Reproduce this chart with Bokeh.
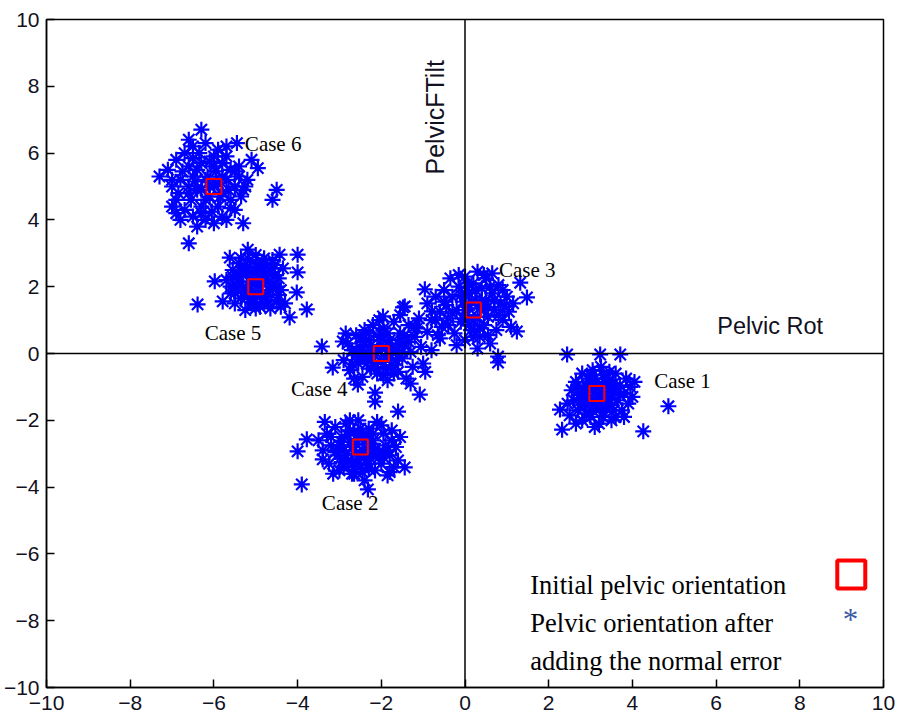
from bokeh.plotting import figure
from bokeh.models import Range1d, FixedTicker, Span
from bokeh.core.properties import value
from bokeh.embed import file_html
from bokeh.resources import INLINE

# ---- data ----
case1_x = [2.44, 3.23, 3.71, 4.86, 4.26, 2.32, 2.27,
           2.55, 2.6, 2.65, 2.7, 2.75, 2.8, 2.8, 2.85, 2.9, 2.95, 3.0, 3.0, 3.05, 3.1, 3.1, 3.15, 3.2, 3.2,
           3.25, 3.3, 3.3, 3.35, 3.4, 3.45, 3.5, 3.5, 3.55, 3.6, 3.65, 3.7, 3.75, 3.8, 3.85, 3.9, 3.95, 4.05,
           2.45, 2.5, 2.7, 2.9, 3.0, 3.15, 3.35, 3.45, 3.6, 3.7, 2.85, 3.25, 3.55, 3.1, 2.65, 3.8, 4.0, 3.4, 2.95,
           2.9, 3.0, 3.1, 3.2, 3.3, 3.4, 3.05, 3.25, 2.8, 3.5, 3.35, 2.95, 3.15, 3.45, 2.75, 3.6, 3.0, 3.3, 2.7, 3.55]
case1_y = [-0.03, -0.03, -0.03, -1.58, -2.33, -2.28, -1.68,
           -1.1, -1.4, -0.85, -1.7, -1.25, -0.6, -2.0, -1.5, -1.0, -0.75, -1.3, -1.9, -0.5, -1.6, -1.05, -0.85, -1.45, -2.1,
           -1.2, -0.65, -1.75, -1.0, -1.35, -0.8, -1.55, -2.0, -1.15, -0.6, -1.4, -0.95, -1.7, -1.2, -0.75, -1.5, -1.0, -0.85,
           -1.5, -1.85, -0.95, -1.8, -0.95, -1.3, -1.6, -0.55, -1.9, -1.25, -1.25, -0.4, -0.9, -2.2, -2.1, -1.9, -1.3, -1.1, -1.55,
           -1.15, -1.45, -0.75, -1.05, -1.35, -0.95, -1.7, -1.55, -1.35, -1.25, -0.75, -1.0, -1.5, -1.5, -1.55, -1.05, -0.65, -1.9, -1.1, -1.7]

case2_x = [-4.0, -3.9, -2.32, -1.6, -2.15, -1.44, -3.4, -3.78,
           -3.5, -3.4, -3.3, -3.25, -3.2, -3.1, -3.05, -3.0, -2.95, -2.9, -2.85, -2.8, -2.75, -2.7, -2.65, -2.6,
           -2.55, -2.5, -2.45, -2.4, -2.35, -2.3, -2.25, -2.2, -2.15, -2.1, -2.05, -2.0, -1.95, -1.9, -1.85, -1.8,
           -1.75, -1.7, -1.65, -1.6, -3.35, -3.15, -2.75, -2.6, -2.4, -2.35, -2.2, -2.8, -2.95, -2.5, -2.0, -1.8,
           -2.65, -3.0, -2.3, -1.95, -2.45, -1.55, -2.7,
           -2.7, -2.55, -2.35, -2.25, -2.85, -2.6, -2.4, -2.15, -2.95, -2.5, -2.3, -2.75, -2.05, -3.1, -2.2, -2.9,
           -1.85, -2.45, -3.2, -1.75]
case2_y = [-2.93, -3.92, -4.07, -1.74, -1.44, -3.41, -3.17, -2.57,
           -2.6, -2.9, -2.4, -3.3, -2.75, -2.2, -3.05, -3.5, -2.5, -2.9, -2.1, -3.2, -2.65, -3.6, -2.35, -3.0,
           -2.0, -3.35, -2.55, -3.8, -2.85, -2.25, -3.15, -2.6, -3.5, -2.05, -2.95, -3.3, -2.4, -2.75, -3.65, -3.05,
           -2.3, -3.4, -2.8, -3.2, -2.05, -3.6, -2.0, -2.7, -3.1, -2.4, -2.95, -2.45, -3.25, -2.25, -2.15, -3.55,
           -3.6, -2.75, -3.45, -3.1, -2.9, -2.5, -3.3,
           -2.8, -2.45, -3.0, -2.7, -3.05, -3.2, -2.6, -2.85, -2.65, -3.05, -3.3, -2.3, -3.1, -2.95, -2.4, -3.4,
           -2.9, -3.55, -2.5, -2.6]

case3_x = [-0.96, 1.32, 1.48, 1.24, 0.79, -1.48, 0.79, -0.79,
           -0.9, -0.8, -0.7, -0.6, -0.55, -0.5, -0.45, -0.4, -0.3, -0.25, -0.2, -0.15, -0.1, -0.05, 0.0, 0.0,
           0.05, 0.1, 0.15, 0.2, 0.2, 0.25, 0.3, 0.35, 0.35, 0.4, 0.45, 0.5, 0.5, 0.55, 0.6, 0.65, 0.7, 0.75,
           0.8, 0.85, 0.9, 1.0, 1.05, 1.1, -0.35, 0.1, 0.45, -0.65, 0.0, 0.65, 0.3, -0.2, 0.9, 1.15, -0.05, 0.55,
           0.0, 0.15, 0.3, 0.4, -0.1, 0.25, 0.55, -0.3, 0.1, 0.7, -0.5, 0.35, 0.6, -0.15, 0.8, 0.05, -0.4, 0.95,
           0.45, 0.2]
case3_y = [1.92, 2.12, 1.68, 0.66, -0.09, 1.38, -0.27, 1.26,
           1.5, 1.0, 1.7, 1.25, 0.8, 1.9, 1.45, 1.05, 1.7, 0.6, 1.3, 2.0, 0.95, 1.55, 2.3, 0.4,
           1.15, 1.8, 0.7, 2.1, 1.0, 1.6, 2.45, 0.5, 1.35, 1.95, 0.85, 1.55, 2.25, 1.1, 0.3, 1.8, 1.3, 0.7,
           2.05, 1.5, 1.0, 1.7, 1.25, 0.8, 2.25, 1.45, 1.3, 0.55, 1.75, 2.4, 0.15, 0.25, 1.9, 1.5, 1.05, 0.55,
           1.3, 1.55, 1.1, 1.6, 1.75, 1.9, 1.4, 1.2, 0.85, 1.6, 1.55, 0.75, 2.0, 2.35, 1.15, 2.1, 0.85, 1.4,
           2.35, 0.5]

case4_x = [-3.42, -2.92, -3.16, -2.56, -2.15, -1.08, -1.44, -1.96,
           -2.9, -2.8, -2.75, -2.7, -2.6, -2.55, -2.5, -2.45, -2.4, -2.35, -2.3, -2.25, -2.2, -2.15, -2.1, -2.05,
           -2.0, -1.95, -1.9, -1.85, -1.8, -1.75, -1.7, -1.65, -1.6, -1.55, -1.5, -1.45, -1.4, -1.35, -1.3, -1.25,
           -1.2, -1.1, -1.05, -1.0, -0.9, -0.8, -0.7, -2.6, -2.3, -2.0, -1.8, -2.2, -1.6, -2.4, -1.9, -2.65,
           -1.3, -2.05, -1.55, -0.95, -2.85, -1.15, -0.6,
           -2.1, -1.9, -2.25, -1.75, -2.35, -1.65, -2.5, -1.45, -2.15, -1.85, -2.45, -1.35, -2.0, -1.7, -2.55,
           -1.2, -1.95, -2.3, -1.5, -2.7]
case4_y = [0.21, 0.36, -0.42, -0.93, -1.17, -1.23, 1.41, 1.11,
           -0.2, 0.3, -0.5, 0.1, 0.55, -0.3, 0.2, -0.7, 0.7, -0.1, 0.4, -0.45, 0.85, 0.05, -0.6, 0.5,
           -0.25, 0.75, 0.15, -0.8, 0.4, -0.35, 0.95, 0.1, -0.55, 0.6, -0.15, 0.3, -0.75, 0.85, 0.05, -0.4,
           0.5, 1.05, 0.2, -0.3, 0.65, 0.1, 1.0, -0.05, 0.0, 0.25, -0.05, -0.15, 0.3, 0.35, -0.45, -0.75,
           -0.9, 1.0, 1.15, -0.55, 0.6, 0.75, 0.45,
           0.1, -0.15, 0.25, 0.2, -0.3, -0.2, 0.45, 0.55, -0.4, 0.6, -0.1, 0.35, 0.55, -0.6, 0.05,
           0.8, -0.65, 0.6, 0.05, -0.3]

case5_x = [-6.39, -3.78, -4.19, -4.02, -4.0, -4.0, -4.43, -5.19, -5.62, -5.98, -5.79,
           -5.7, -5.6, -5.55, -5.5, -5.45, -5.4, -5.35, -5.3, -5.25, -5.2, -5.15, -5.1, -5.05, -5.0, -4.95, -4.9,
           -4.85, -4.8, -4.75, -4.7, -4.65, -4.6, -4.55, -4.5, -4.45, -4.4, -4.35, -4.3, -5.3, -5.1, -4.9, -4.7,
           -5.2, -5.0, -4.8, -5.45, -4.6, -5.6, -4.5, -5.1, -4.85, -5.35, -4.4, -5.0, -5.25,
           -5.0, -4.85, -5.15, -4.75, -5.25, -4.95, -5.1, -4.65, -5.4, -4.9, -5.05, -4.55, -5.35, -4.7, -5.5,
           -4.8, -5.2, -4.45, -5.55, -4.6]
case5_y = [1.47, 1.32, 1.08, 1.83, 2.43, 2.96, 2.96, 3.11, 2.87, 2.16, 1.56,
           2.2, 1.8, 2.5, 1.5, 2.05, 2.7, 1.65, 2.35, 1.3, 1.95, 2.8, 1.55, 2.25, 1.75, 2.6, 1.4,
           2.1, 2.85, 1.7, 2.4, 1.35, 2.0, 2.65, 1.6, 2.25, 1.9, 2.55, 1.5, 2.0, 2.4, 1.9, 2.15,
           1.7, 2.95, 1.55, 2.3, 2.8, 2.0, 2.0, 1.85, 2.45, 2.85, 1.4, 1.35, 2.55,
           2.1, 1.8, 2.15, 2.3, 1.85, 2.35, 1.65, 1.9, 2.15, 2.6, 1.5, 2.35, 2.45, 1.55, 1.8,
           2.7, 2.55, 1.75, 2.3, 2.55]

case6_x = [-6.3, -5.45, -7.3, -6.6, -5.3, -4.5, -4.6, -5.1, -4.95, -5.8,
           -6.9, -6.7, -6.5, -6.2, -5.9, -5.7, -6.6, -6.3, -6.0, -5.6, -5.4, -7.0, -6.8, -6.5, -6.2, -5.8,
           -5.5, -5.3, -6.9, -6.6, -6.4, -6.1, -5.8, -5.6, -5.9, -6.3, -6.7, -6.9, -6.5, -6.2, -5.5, -5.7,
           -6.0, -6.4, -6.1, -5.9, -6.4, -7.1, -5.2, -5.4, -6.8, -7.0, -6.0, -5.7, -6.6,
           -6.0, -6.15, -5.85, -6.3, -5.7, -6.45, -5.95, -6.2, -5.65, -6.55, -5.5, -6.75, -6.1, -6.35, -5.8,
           -6.6, -5.35, -6.85, -6.05, -5.6, -6.5, -5.25, -7.0, -6.3]
case6_y = [6.7, 6.3, 5.3, 3.3, 3.9, 4.9, 4.6, 5.8, 5.55, 4.1,
           5.8, 6.0, 6.2, 6.3, 6.1, 5.9, 5.6, 5.7, 5.6, 5.5, 5.3, 5.0, 5.2, 5.3, 5.2, 5.3,
           5.0, 4.9, 4.6, 4.8, 4.9, 4.7, 4.8, 4.6, 4.4, 4.4, 4.3, 4.2, 4.1, 4.0, 4.3, 4.0,
           3.9, 3.8, 5.0, 5.1, 5.5, 5.5, 5.2, 5.6, 4.0, 4.4, 5.9, 6.2, 6.4,
           5.0, 5.3, 4.7, 4.9, 5.2, 5.15, 5.45, 4.6, 4.9, 4.6, 5.45, 5.45, 5.75, 6.0, 5.7,
           5.0, 4.7, 4.8, 4.25, 4.35, 5.85, 5.0, 5.2, 4.2]

centers_x = [3.15, -2.5, 0.2, -2.0, -5.0, -6.0]
centers_y = [-1.2, -2.8, 1.3, 0.0, 2.0, 5.0]

case_labels = ["Case 1", "Case 2", "Case 3", "Case 4", "Case 5", "Case 6"]
label_x = [4.52, -3.42, 0.81, -4.16, -6.22, -5.26]
label_y = [-0.83, -4.47, 2.51, -1.05, 0.62, 6.27]

legend_lines = ["Initial pelvic orientation", "Pelvic orientation after", "adding the normal error"]
legend_x = [1.56, 1.56, 1.56]
legend_y = [-6.92, -8.07, -9.22]

ticks = [-10, -8, -6, -4, -2, 0, 2, 4, 6, 8, 10]

# ---- figure ----
p = figure(width=897, height=720, output_backend="svg", toolbar_location=None,
           x_range=Range1d(-10, 10), y_range=Range1d(-10, 10),
           min_border_left=46, min_border_right=14, min_border_top=19, min_border_bottom=33)
p.grid.visible = False
p.background_fill_color = "white"
p.border_fill_color = "white"
p.outline_line_color = "black"
p.outline_line_width = 1.5

for ax in (p.xaxis[0], p.yaxis[0]):
    ax.ticker = FixedTicker(ticks=ticks)
    ax.major_tick_in = 8
    ax.major_tick_out = 0
    ax.minor_tick_line_color = None
    ax.axis_line_color = "black"
    ax.axis_line_width = 1.5
    ax.major_tick_line_width = 1.5
    ax.major_label_text_font = "Liberation Sans"
    ax.major_label_text_font_size = "21px"
    ax.major_label_text_color = "#111122"
p.xaxis[0].major_label_standoff = 8
p.yaxis[0].major_label_standoff = 7

p.add_layout(Span(location=0, dimension="width", line_color="black", line_width=1.5))
p.add_layout(Span(location=0, dimension="height", line_color="black", line_width=1.5))

all_x = case1_x + case2_x + case3_x + case4_x + case5_x + case6_x
all_y = case1_y + case2_y + case3_y + case4_y + case5_y + case6_y
p.scatter(all_x, all_y, marker="asterisk", size=16, line_color="#0000ff", line_width=2.2)

p.scatter(centers_x, centers_y, marker="square", size=15, fill_color=None,
          line_color="#ff0000", line_width=2)

p.text(x=label_x, y=label_y, text=case_labels, text_font=value("Liberation Serif"),
       text_font_size="21px", text_color="black", text_baseline="alphabetic", text_align="left")

p.text(x=legend_x, y=legend_y, text=legend_lines, text_font=value("Liberation Serif"),
       text_font_size="26.5px", text_color="black", text_baseline="alphabetic", text_align="left")

# legend symbols
p.scatter([9.23], [-6.62], marker="square", size=28, fill_color=None, line_color="#ff0000", line_width=4)
p.text(x=[9.21], y=[-7.96], text=["*"], text_font=value("Liberation Serif"), text_font_size="31px",
       text_color="#3b5ba5", text_baseline="alphabetic", text_align="center")

# axis names
p.text(x=[6.03], y=[0.81], text=["Pelvic Rot"], text_font=value("Liberation Sans"),
       text_font_size="23.5px", text_color="#111122", text_baseline="alphabetic", text_align="left")
p.text(x=[-0.71], y=[5.36], text=["PelvicFTilt"], text_font=value("Liberation Sans"),
       text_font_size="25px", text_color="#111122", text_baseline="alphabetic", text_align="left",
       angle=1.5708)

open("out.html", "w").write(file_html(p, INLINE))
